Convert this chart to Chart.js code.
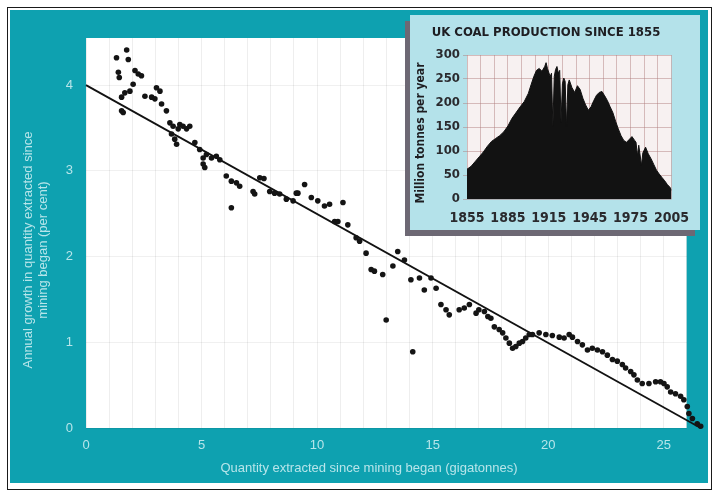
<!DOCTYPE html>
<html>
<head>
<meta charset="utf-8">
<title>Growth in extraction against quantity extracted</title>
<script src="https://cdn.jsdelivr.net/npm/chart.js@4/dist/chart.umd.min.js"></script>
<style>
  html, body { margin: 0; padding: 0; background: #ffffff; }
  #wrap { position: relative; width: 717px; height: 492px; overflow: hidden; }
  #main { position: absolute; left: 0; top: 0; }
  #inset {
    position: absolute; left: 410px; top: 15px; width: 290px; height: 215px;
    background: #b4e2ea; box-shadow: -5px 6px 0 #6d6874;
  }
  #coal { position: absolute; left: 0; top: 0; }
</style>
</head>
<body>
<div id="wrap">
  <canvas id="main" width="717" height="492"></canvas>
  <div id="inset"><canvas id="coal" width="290" height="215"></canvas></div>
</div>
<script>
// Cumulative extraction (gigatonnes) and annual growth of cumulative extraction (%)
const extracted = [
  1.32, 1.40, 1.44, 1.54, 1.54, 1.61, 1.68, 1.76, 1.83, 1.90,
  2.04, 2.12, 2.26, 2.40, 2.55, 2.84, 2.98, 3.05, 3.20, 3.27,
  3.48, 3.63, 3.70, 3.77, 3.84, 3.92, 3.99, 4.06, 4.20, 4.35,
  4.49, 4.71, 4.92, 5.07, 5.07, 5.14, 5.21, 5.43, 5.64, 5.79,
  6.07, 6.29, 6.29, 6.51, 6.65, 7.23, 7.30, 7.52, 7.70, 7.95,
  8.16, 8.38, 8.67, 8.96, 9.10, 9.17, 9.46, 9.75, 10.03, 10.32,
  10.54, 10.76, 10.90, 11.12, 11.33, 11.69, 11.84, 12.12, 12.34, 12.48,
  12.84, 12.99, 13.28, 13.49, 13.78, 14.06, 14.14, 14.43, 14.64, 14.93,
  15.15, 15.36, 15.58, 15.72, 16.15, 16.37, 16.59, 16.88, 17.00, 17.24,
  17.39, 17.52, 17.67, 17.88, 18.03, 18.17, 18.32, 18.46, 18.60, 18.75,
  18.89, 19.03, 19.18, 19.32, 19.61, 19.90, 20.18, 20.48, 20.69, 20.91,
  21.05, 21.27, 21.48, 21.70, 21.91, 22.13, 22.35, 22.56, 22.78, 22.99,
  23.21, 23.35, 23.57, 23.71, 23.86, 24.07, 24.36, 24.65, 24.86, 25.01,
  25.15, 25.30, 25.51, 25.73, 25.87, 26.02, 26.09, 26.24, 26.45, 26.60
];
const growth = [
  4.32, 4.15, 4.09, 3.86, 3.70, 3.68, 3.91, 4.41, 4.30, 3.93,
  4.01, 4.17, 4.13, 4.11, 3.87, 3.86, 3.84, 3.97, 3.93, 3.78,
  3.70, 3.56, 3.43, 3.52, 3.37, 3.31, 3.49, 3.54, 3.52, 3.49,
  3.52, 3.33, 3.25, 3.15, 3.08, 3.04, 3.19, 3.15, 3.17, 3.13,
  2.94, 2.88, 2.57, 2.86, 2.82, 2.76, 2.73, 2.92, 2.91, 2.76,
  2.74, 2.73, 2.67, 2.65, 2.74, 2.74, 2.84, 2.69, 2.65, 2.59,
  2.61, 2.41, 2.41, 2.63, 2.37, 2.22, 2.18, 2.04, 1.85, 1.83,
  1.79, 1.26, 1.89, 2.06, 1.96, 1.73, 0.89, 1.75, 1.61, 1.75,
  1.63, 1.44, 1.38, 1.32, 1.38, 1.40, 1.44, 1.34, 1.38, 1.36,
  1.30, 1.28, 1.18, 1.15, 1.11, 1.05, 0.99, 0.93, 0.95, 0.99,
  1.01, 1.05, 1.09, 1.09, 1.11, 1.09, 1.08, 1.06, 1.05, 1.09,
  1.06, 1.01, 0.97, 0.91, 0.93, 0.91, 0.89, 0.85, 0.80, 0.78,
  0.74, 0.70, 0.66, 0.62, 0.56, 0.52, 0.52, 0.54, 0.54, 0.52,
  0.48, 0.42, 0.40, 0.37, 0.33, 0.25, 0.17, 0.11, 0.05, 0.02
];
// Straight-line trend through the points
const trendX = [0, 26.6];
const trendY = [4.0, 0];
// Main axis ticks; the white field stops at 26, the marks run on a little past it
const xGridSteps = Array.from({ length: 27 }, (_, i) => i);
const xTickLabels = [0, 5, 10, 15, 20, 25];
const yTickLabels = [0, 1, 2, 3, 4];
const FIELD_END = 26;

// UK coal production, million tonnes per year
const coalYears = [
  1855, 1858, 1861, 1864, 1867, 1870, 1873, 1876, 1879, 1882,
  1885, 1888, 1891, 1894, 1897, 1900, 1902, 1904, 1906, 1908,
  1910, 1912, 1913, 1914, 1916, 1917, 1918, 1919, 1920, 1921,
  1922, 1923, 1924, 1925, 1926, 1927, 1928, 1929, 1930, 1932,
  1934, 1936, 1938, 1940, 1942, 1944, 1946, 1948, 1950, 1952,
  1954, 1956, 1958, 1960, 1962, 1964, 1966, 1968, 1970, 1972,
  1974, 1976, 1978, 1979, 1980, 1981, 1983, 1984, 1986, 1988,
  1990, 1992, 1994, 1996, 1998, 2000, 2002, 2004, 2005
];
const coalOutput = [
  62, 68, 78, 88, 98, 110, 120, 126, 132, 140,
  152, 168, 180, 192, 203, 220, 238, 255, 268, 272,
  266, 276, 284, 272, 255, 262, 150, 255, 270, 276,
  262, 268, 160, 240, 252, 245, 150, 238, 248, 232,
  222, 236, 228, 210, 196, 185, 192, 205, 216, 222,
  224, 215, 205, 192, 180, 162, 146, 132, 122, 118,
  124, 130, 122, 118, 90, 112, 70, 96, 108, 94,
  84, 72, 60, 52, 45, 38, 30, 24, 18
];
const coalYearGrid = Array.from({ length: 16 }, (_, i) => 1855 + i * 10);
const coalYearLabels = [1855, 1885, 1915, 1945, 1975, 2005];
const coalValueGrid = Array.from({ length: 13 }, (_, i) => i * 25);
const coalValueLabels = [0, 50, 100, 150, 200, 250, 300];

const TEAL = '#0ea1b0';
const PALE = '#b7e5ea';
const LABEL_FONT = '"Liberation Sans", Arial, sans-serif';
const NARROW_FONT = '"Liberation Sans Narrow", "DejaVu Sans Condensed", sans-serif';

// Page frame, teal panel and white plotting field, plus the axis titles
const panelPlugin = {
  id: 'panel',
  beforeDraw(chart) {
    const { ctx, chartArea: a } = chart;
    const fieldRight = chart.scales.x.getPixelForValue(FIELD_END);
    ctx.save();
    ctx.fillStyle = '#ffffff';
    ctx.fillRect(0, 0, chart.width, chart.height);
    ctx.fillStyle = TEAL;
    ctx.fillRect(10, 10, 698, 473);
    ctx.strokeStyle = '#1a1a1a';
    ctx.lineWidth = 1;
    ctx.strokeRect(7.5, 7.5, 704, 482);
    ctx.fillStyle = '#ffffff';
    ctx.fillRect(a.left, a.top, fieldRight - a.left, a.bottom - a.top);
    ctx.restore();
  },
  beforeDatasetsDraw(chart) {
    // cover the grid where it runs past the white field
    const { ctx, chartArea: a } = chart;
    const fieldRight = chart.scales.x.getPixelForValue(FIELD_END);
    ctx.save();
    ctx.fillStyle = TEAL;
    ctx.fillRect(fieldRight, a.top - 1, 708 - fieldRight, a.bottom - a.top + 2);
    ctx.restore();
  },
  afterDraw(chart) {
    const { ctx } = chart;
    ctx.save();
    ctx.fillStyle = PALE;
    ctx.font = '13px ' + LABEL_FONT;
    ctx.textAlign = 'center';
    ctx.textBaseline = 'middle';
    ctx.fillText('Quantity extracted since mining began (gigatonnes)', 369, 468);
    ctx.translate(0, 250);
    ctx.rotate(-Math.PI / 2);
    ctx.fillText('Annual growth in quantity extracted since', 0, 28);
    ctx.fillText('mining began (per cent)', 0, 43);
    ctx.restore();
  }
};

new Chart(document.getElementById('main'), {
  data: {
    datasets: [
      {
        type: 'line',
        data: trendX.map((x, i) => ({ x, y: trendY[i] })),
        borderColor: '#121212',
        borderWidth: 1.8,
        pointRadius: 0,
        clip: false,
        order: 2
      },
      {
        type: 'scatter',
        data: extracted.map((x, i) => ({ x, y: growth[i] })),
        backgroundColor: '#141414',
        borderWidth: 0,
        pointRadius: 2.8,
        clip: false,
        order: 1
      }
    ]
  },
  options: {
    responsive: false,
    animation: false,
    events: [],
    layout: { padding: { left: 0, top: 38, right: 14, bottom: 0 } },
    plugins: { legend: { display: false }, tooltip: { enabled: false } },
    scales: {
      x: {
        type: 'linear', min: 0, max: 26.7,
        afterBuildTicks: s => { s.ticks = xGridSteps.map(v => ({ value: v })); },
        afterFit: s => { s.height = 64; },
        border: { display: false },
        grid: { color: 'rgba(0,0,0,0.065)', drawTicks: false },
        ticks: {
          autoSkip: false, maxRotation: 0, padding: 10,
          color: PALE, font: { size: 13, family: LABEL_FONT },
          callback: v => (xTickLabels.includes(v) ? String(v) : '')
        }
      },
      y: {
        type: 'linear', min: 0, max: 4.55,
        afterBuildTicks: s => { s.ticks = yTickLabels.map(v => ({ value: v })); },
        afterFit: s => { s.width = 86; },
        border: { display: false },
        grid: { color: 'rgba(0,0,0,0.06)', drawTicks: false },
        ticks: {
          padding: 13, color: PALE, font: { size: 13, family: LABEL_FONT }
        }
      }
    }
  },
  plugins: [panelPlugin]
});

// Inset: plotting field and titles
const insetPlugin = {
  id: 'insetPanel',
  beforeDraw(chart) {
    const { ctx, chartArea: a } = chart;
    ctx.save();
    ctx.fillStyle = '#f7f1f1';
    ctx.fillRect(a.left, a.top, a.right - a.left, a.bottom - a.top);
    ctx.restore();
  },
  afterDraw(chart) {
    const { ctx } = chart;
    ctx.save();
    ctx.fillStyle = '#1e1e22';
    ctx.textAlign = 'center';
    ctx.textBaseline = 'middle';
    ctx.font = 'bold 13px ' + NARROW_FONT;
    ctx.fillText('UK COAL PRODUCTION SINCE 1855', 136, 18);
    ctx.font = 'bold 12px ' + NARROW_FONT;
    ctx.translate(11, 118);
    ctx.rotate(-Math.PI / 2);
    ctx.fillText('Million tonnes per year', 0, 0);
    ctx.restore();
  }
};

new Chart(document.getElementById('coal'), {
  type: 'line',
  data: {
    datasets: [{
      data: coalYears.map((x, i) => ({ x, y: coalOutput[i] })),
      fill: 'origin',
      backgroundColor: '#121212',
      borderColor: '#121212',
      borderWidth: 1,
      pointRadius: 0,
      tension: 0
    }]
  },
  options: {
    responsive: false,
    animation: false,
    events: [],
    layout: { padding: { left: 0, top: 40, right: 25, bottom: 0 } },
    plugins: { legend: { display: false }, tooltip: { enabled: false } },
    scales: {
      x: {
        type: 'linear', min: 1855, max: 2005,
        afterBuildTicks: s => { s.ticks = coalYearGrid.map(v => ({ value: v })); },
        afterFit: s => { s.height = 31; },
        border: { display: false },
        grid: { color: 'rgba(170,120,120,0.45)', drawTicks: false },
        ticks: {
          autoSkip: false, maxRotation: 0, padding: 11,
          color: '#2a2a2e', font: { size: 14, weight: 'bold', family: NARROW_FONT },
          callback: v => (coalYearLabels.includes(v) ? String(v) : '')
        }
      },
      y: {
        type: 'linear', min: 0, max: 300,
        afterBuildTicks: s => { s.ticks = coalValueGrid.map(v => ({ value: v })); },
        afterFit: s => { s.width = 57; },
        border: { display: false },
        grid: { color: 'rgba(170,120,120,0.45)', tickLength: 4 },
        ticks: {
          padding: 3,
          color: '#2a2a2e', font: { size: 13, weight: 'bold', family: NARROW_FONT },
          callback: v => (coalValueLabels.includes(v) ? String(v) : '')
        }
      }
    }
  },
  plugins: [insetPlugin]
});
</script>
</body>
</html>
